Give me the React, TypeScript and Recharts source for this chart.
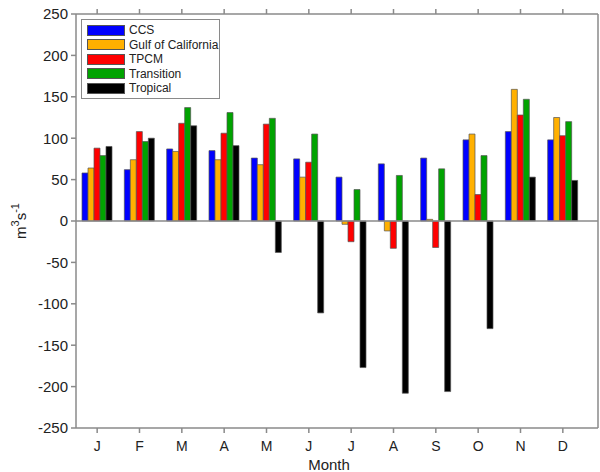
import {
  BarChart,
  Bar,
  XAxis,
  YAxis,
  ReferenceLine,
  Legend,
} from "recharts";

const MONTHS = ["J", "F", "M", "A", "M", "J", "J", "A", "S", "O", "N", "D"];
const CCS = [58, 62, 87, 85, 76, 75, 53, 69, 76, 98, 108, 98];
const GULF = [64, 74, 84, 74, 68, 53, -4, -12, 2, 105, 159, 125];
const TPCM = [88, 108, 118, 106, 117, 71, -25, -33, -32, 32, 128, 103];
const TRANSITION = [79, 96, 137, 131, 124, 105, 38, 55, 63, 79, 147, 120];
const TROPICAL = [90, 100, 115, 91, -38, -111, -177, -208, -206, -130, 53, 49];
const Y_TICKS = [-250, -200, -150, -100, -50, 0, 50, 100, 150, 200, 250];

const SERIES = [
  { key: "ccs", name: "CCS", color: "#0000FF" },
  { key: "gulf", name: "Gulf of California", color: "#FFB000" },
  { key: "tpcm", name: "TPCM", color: "#FF0000" },
  { key: "transition", name: "Transition", color: "#00A300" },
  { key: "tropical", name: "Tropical", color: "#000000" },
];

const data = MONTHS.map((m, i) => ({
  month: m,
  ccs: CCS[i],
  gulf: GULF[i],
  tpcm: TPCM[i],
  transition: TRANSITION[i],
  tropical: TROPICAL[i],
}));

const FONT = "'Liberation Sans', Arial, sans-serif";
const AXIS = "#8a8a8a";
const TEXT = "#222";

const renderLegend = () => (
  <div
    style={{
      border: `1.5px solid ${AXIS}`,
      background: "#fff",
      padding: "3px 3px 2px 5px",
      fontFamily: FONT,
      fontSize: 12,
      color: TEXT,
      width: 139,
      boxSizing: "border-box",
      whiteSpace: "nowrap",
    }}
  >
    {SERIES.map((s) => (
      <div key={s.key} style={{ display: "flex", alignItems: "center", height: 14.5 }}>
        <span
          style={{
            display: "inline-block",
            flex: "none",
            width: 36,
            height: 9,
            background: s.color,
            border: "1px solid #555",
            marginRight: 4,
          }}
        />
        <span>{s.name}</span>
      </div>
    ))}
  </div>
);

const YLabel = () => (
  <text
    transform="rotate(-90, 22, 221)"
    x={22}
    y={221}
    textAnchor="middle"
    dominantBaseline="middle"
    fontFamily={FONT}
    fontSize={15}
    fill={TEXT}
  >
    m<tspan dy={-6} fontSize={11}>3</tspan>
    <tspan dy={6}>s</tspan>
    <tspan dy={-6} fontSize={11}>-1</tspan>
  </text>
);

const XLabel = () => (
  <text
    x={329}
    y={470}
    textAnchor="middle"
    fontFamily={FONT}
    fontSize={15}
    fill={TEXT}
  >
    Month
  </text>
);

export default function App() {
  return (
    <div style={{ position: "absolute", left: 0, top: 0, background: "#fff" }}>
      <BarChart
        width={600}
        height={472}
        data={data}
        margin={{ top: 9, right: 0, bottom: 0, left: 34 }}
        barGap={0}
        barSize={6}
      >
        <XAxis
          dataKey="month"
          xAxisId="bottom"
          height={44}
          padding={{ left: 0, right: 14 }}
          stroke={AXIS}
          strokeWidth={1.5}
          tickSize={5}
          tickMargin={8}
          tick={{ fill: TEXT, fontSize: 14, fontFamily: FONT }}
          label={<XLabel />}
        />
        <XAxis
          dataKey="month"
          xAxisId="top"
          orientation="top"
          height={5}
          padding={{ left: 0, right: 14 }}
          stroke={AXIS}
          strokeWidth={1.5}
          tickSize={5}
          tick={() => <g />}
        />
        <YAxis
          yAxisId="left"
          domain={[-250, 250]}
          ticks={Y_TICKS}
          width={42}
          stroke={AXIS}
          strokeWidth={1.5}
          tickSize={5}
          tickMargin={3}
          interval={0}
          tick={{ fill: TEXT, fontSize: 15, fontFamily: FONT }}
          label={<YLabel />}
        />
        <YAxis
          yAxisId="right"
          orientation="right"
          domain={[-250, 250]}
          ticks={Y_TICKS}
          width={2}
          stroke={AXIS}
          strokeWidth={1.5}
          tick={false}
        />
        <ReferenceLine y={0} yAxisId="left" xAxisId="bottom" stroke={AXIS} strokeWidth={1.5} />
        <Legend
          content={renderLegend}
          layout="vertical"
          align="center"
          verticalAlign="middle"
          wrapperStyle={{ position: "absolute", left: 81, top: 19, width: 139, height: "auto" }}
        />
        {SERIES.map((s) => (
          <Bar
            key={s.key}
            dataKey={s.key}
            name={s.name}
            xAxisId="bottom"
            yAxisId="left"
            fill={s.color}
            stroke="#555"
            strokeWidth={0.7}
            isAnimationActive={false}
          />
        ))}
      </BarChart>
    </div>
  );
}
